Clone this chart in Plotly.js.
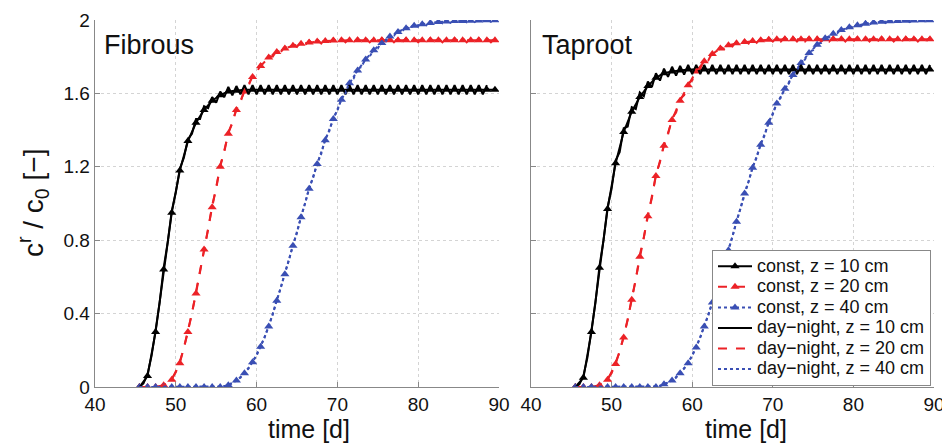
<!DOCTYPE html>
<html>
<head>
<meta charset="utf-8">
<script src="https://cdn.plot.ly/plotly-3.0.1.min.js"></script>
<style>html,body{margin:0;padding:0;background:#fff;}#chart{width:942px;height:445px;}</style>
</head>
<body>
<div id="chart"></div>
<script>
// ---- time grids ----
const tConst = [45.5,46.5,47.5,48.5,49.5,50.5,51.5,52.5,53.5,54.5,55.5,56.5,57.5,58.5,59.5,60.5,61.5,62.5,63.5,64.5,65.5,66.5,67.5,68.5,69.5,70.5,71.5,72.5,73.5,74.5,75.5,76.5,77.5,78.5,79.5,80.5,81.5,82.5,83.5,84.5,85.5,86.5,87.5,88.5,89.5];
const tDN = [45.5,46,46.5,47,47.5,48,48.5,49,49.5,50,50.5,51,51.5,52,52.5,53,53.5,54,54.5,55,55.5,56,56.5,57,57.5,58,58.5,59,59.5,60,60.5,61,61.5,62,62.5,63,63.5,64,64.5,65,65.5,66,66.5,67,67.5,68,68.5,69,69.5,70,70.5,71,71.5,72,72.5,73,73.5,74,74.5,75,75.5,76,76.5,77,77.5,78,78.5,79,79.5,80,80.5,81,81.5,82,82.5,83,83.5,84,84.5,85,85.5,86,86.5,87,87.5,88,88.5,89,89.5];

// ---- Fibrous: constant transpiration ----
const fibConst10 = [0,0.06,0.30,0.64,0.95,1.18,1.34,1.44,1.51,1.56,1.59,1.61,1.615,1.62,1.62,1.62,1.62,1.62,1.62,1.62,1.62,1.62,1.62,1.62,1.62,1.62,1.62,1.62,1.62,1.62,1.62,1.62,1.62,1.62,1.62,1.62,1.62,1.62,1.62,1.62,1.62,1.62,1.62,1.62,1.62];
const fibConst20 = [0,0,0,0.01,0.04,0.13,0.30,0.51,0.75,0.98,1.20,1.38,1.51,1.61,1.69,1.75,1.795,1.825,1.845,1.86,1.87,1.878,1.883,1.886,1.888,1.89,1.89,1.89,1.89,1.89,1.89,1.89,1.89,1.89,1.89,1.89,1.89,1.89,1.89,1.89,1.89,1.89,1.89,1.89,1.89];
const fibConst40 = [0,0,0,0,0,0,0,0,0,0,0,0.01,0.035,0.075,0.135,0.22,0.33,0.47,0.615,0.77,0.925,1.08,1.215,1.345,1.46,1.565,1.655,1.725,1.785,1.835,1.875,1.91,1.935,1.955,1.968,1.977,1.984,1.989,1.992,1.994,1.995,1.996,1.997,1.998,1.998];

// ---- Fibrous: day-night transpiration ----
const fibDN10 = [0,0.02,0.07,0.17,0.31,0.46,0.65,0.79,0.96,1.06,1.19,1.25,1.35,1.38,1.46,1.46,1.53,1.52,1.58,1.55,1.61,1.58,1.635,1.59,1.64,1.595,1.645,
 1.595,1.645,1.595,1.645,1.595,1.645,1.595,1.645,1.595,1.645,1.595,1.645,1.595,1.645,1.595,1.645,1.595,1.645,1.595,1.645,1.595,1.645,1.595,1.645,1.595,1.645,1.595,1.645,1.595,1.645,1.595,1.645,1.595,1.645,1.595,1.645,1.595,1.645,1.595,1.645,1.595,1.645,1.595,1.645,1.595,1.645,1.595,1.645,1.595,1.645,1.595,1.645,1.595,1.645,1.595,1.645,1.595,1.645,1.595,1.645];
const fibDN20 = [0,0,0,0,0,0,0.01,0.02,0.045,0.08,0.14,0.21,0.31,0.40,0.52,0.63,0.76,0.86,0.99,1.08,1.21,1.28,1.39,1.435,1.52,1.55,1.62,1.64,1.70,1.71,1.76,1.76,1.805,1.80,1.835,1.825,1.855,1.84,1.87,1.853,1.88,1.862,1.889,1.868,1.895,1.872,1.898,1.875,1.9,1.877,
 1.902,1.878,1.902,1.878,1.902,1.878,1.902,1.878,1.902,1.878,1.902,1.878,1.902,1.878,1.902,1.878,1.902,1.878,1.902,1.878,1.902,1.878,1.902,1.878,1.902,1.878,1.902,1.878,1.902,1.878,1.902,1.878,1.902,1.878,1.902,1.878,1.902,1.878,1.902];
const fibDN40 = [0,0,0,0,0,0,0,0,0,0,0,0,0,0,0,0,0,0,0,0,0,
 0.003,0.012,0.02,0.038,0.05,0.08,0.1,0.14,0.17,0.225,0.27,0.335,0.395,0.475,0.54,0.62,0.69,0.775,0.84,0.93,1.0,1.085,1.14,1.22,1.27,1.352,1.395,1.468,1.505,1.573,1.60,1.663,1.68,1.733,1.745,1.793,1.80,1.843,1.845,1.883,1.883,1.918,1.914,1.943,1.937,1.963,1.953,1.976,1.964,1.985,1.972,1.992,1.978,1.997,1.982,2.0,1.985,2.002,1.987,2.003,1.988,2.004,1.989,2.005,1.99,2.006,1.99,2.006];

// ---- Taproot: constant transpiration ----
const tapConst10 = [0,0.05,0.30,0.65,0.97,1.22,1.39,1.50,1.58,1.64,1.685,1.71,1.72,1.725,1.73,1.73,1.73,1.73,1.73,1.73,1.73,1.73,1.73,1.73,1.73,1.73,1.73,1.73,1.73,1.73,1.73,1.73,1.73,1.73,1.73,1.73,1.73,1.73,1.73,1.73,1.73,1.73,1.73,1.73,1.73];
const tapConst20 = [0,0,0,0.01,0.04,0.125,0.27,0.475,0.71,0.93,1.15,1.315,1.455,1.56,1.645,1.72,1.775,1.815,1.845,1.862,1.873,1.88,1.886,1.89,1.892,1.895,1.895,1.895,1.895,1.895,1.895,1.895,1.895,1.895,1.895,1.895,1.895,1.895,1.895,1.895,1.895,1.895,1.895,1.895,1.895];
const tapConst40 = [0,0,0,0,0,0,0,0,0,0,0,0.015,0.035,0.075,0.13,0.215,0.33,0.46,0.60,0.745,0.90,1.055,1.195,1.32,1.44,1.545,1.625,1.70,1.765,1.82,1.865,1.90,1.925,1.945,1.96,1.972,1.98,1.986,1.99,1.993,1.995,1.996,1.997,1.998,1.998];

// ---- Taproot: day-night transpiration ----
const tapDN10 = [0,0.015,0.06,0.16,0.31,0.46,0.66,0.80,0.98,1.08,1.235,1.28,1.41,1.42,1.525,1.515,1.605,1.585,1.665,1.635,1.71,1.67,1.735,1.69,1.745,1.697,1.75,1.703,1.755,
 1.705,1.755,1.705,1.755,1.705,1.755,1.705,1.755,1.705,1.755,1.705,1.755,1.705,1.755,1.705,1.755,1.705,1.755,1.705,1.755,1.705,1.755,1.705,1.755,1.705,1.755,1.705,1.755,1.705,1.755,1.705,1.755,1.705,1.755,1.705,1.755,1.705,1.755,1.705,1.755,1.705,1.755,1.705,1.755,1.705,1.755,1.705,1.755,1.705,1.755,1.705,1.755,1.705,1.755,1.705,1.755,1.705,1.755,1.705,1.755];
const tapDN20 = [0,0,0,0,0,0,0.01,0.02,0.045,0.075,0.135,0.19,0.28,0.365,0.485,0.585,0.72,0.815,0.94,1.03,1.16,1.225,1.325,1.375,1.465,1.495,1.57,1.59,1.655,1.67,1.73,1.735,1.785,1.78,1.825,1.818,1.855,1.842,1.872,1.856,1.883,1.864,1.89,1.871,1.896,1.876,1.9,1.879,1.903,1.882,
 1.907,1.883,1.907,1.883,1.907,1.883,1.907,1.883,1.907,1.883,1.907,1.883,1.907,1.883,1.907,1.883,1.907,1.883,1.907,1.883,1.907,1.883,1.907,1.883,1.907,1.883,1.907,1.883,1.907,1.883,1.907,1.883,1.907,1.883,1.907,1.883,1.907,1.883,1.907];
const tapDN40 = [0,0,0,0,0,0,0,0,0,0,0,0,0,0,0,0,0,0,0,0,0,
 0.004,0.017,0.022,0.038,0.05,0.08,0.1,0.135,0.17,0.22,0.27,0.335,0.39,0.465,0.525,0.605,0.67,0.75,0.82,0.905,0.975,1.06,1.12,1.2,1.25,1.327,1.372,1.448,1.485,1.553,1.577,1.633,1.655,1.708,1.725,1.773,1.785,1.828,1.835,1.873,1.875,1.908,1.905,1.933,1.927,1.953,1.945,1.968,1.958,1.98,1.968,1.988,1.975,1.994,1.98,1.998,1.984,2.001,1.986,2.003,1.988,2.004,1.989,2.005,1.99,2.006,1.99,2.006];

const seriesNames = ['const, z = 10 cm','const, z = 20 cm','const, z = 40 cm','day\u2212night, z = 10 cm','day\u2212night, z = 20 cm','day\u2212night, z = 40 cm'];
const xTicks = [40,50,60,70,80,90];
const yTicks = [0,0.4,0.8,1.2,1.6,2];
const yTickText = ['0','0.4','0.8','1.2','1.6','2'];

const BLACK = '#000000', RED = '#ec2227', BLUE = '#3a4fb4';
const colors = [BLACK, RED, BLUE];
const dashes = ['solid','dash','dot'];

function legName(s){ return '<span style="font-size:18px">' + s + '</span>'; }

function panel(xa, ya, constArr, dnArr, showLeg){
  const tr = [];
  constArr.forEach((v,i)=>{
    tr.push({x:tConst, y:v, xaxis:xa, yaxis:ya, type:'scatter', mode:'lines+markers',
      name:legName(seriesNames[i]), legendrank:i+1, showlegend:showLeg,
      line:{color:colors[i], width:2, dash:dashes[i]},
      marker:{symbol:'triangle-up', size:8, color:colors[i], line:{width:0}}});
  });
  dnArr.forEach((v,i)=>{
    tr.push({x:tDN, y:v, xaxis:xa, yaxis:ya, type:'scatter', mode:'lines',
      name:legName(seriesNames[i+3]), legendrank:i+4, showlegend:showLeg,
      line:{color:colors[i], width:2, dash:dashes[i]}});
  });
  return tr;
}

const data = [].concat(
  panel('x','y',[fibConst10,fibConst20,fibConst40],[fibDN10,fibDN20,fibDN40],false),
  panel('x2','y2',[tapConst10,tapConst20,tapConst40],[tapDN10,tapDN20,tapDN40],true)
);

const FONT = 'Liberation Sans, Arial, Helvetica, sans-serif';
const W = 942, H = 445;
function xax(dom){
  return {domain:dom, range:[40,90], tickvals:xTicks, ticks:'inside', ticklen:5, tickcolor:'#888',
    showline:true, linecolor:'#888', linewidth:1.3, mirror:false, zeroline:false,
    showgrid:true, gridcolor:'#d4d4d4', griddash:'dot', gridwidth:1,
    ticklabeloverflow:'allow',
    tickfont:{family:FONT, size:19, color:'#111'}};
}
function yax(anchor, labels){
  return {domain:[1-387/H, 1-20/H], range:[0,2], tickvals:yTicks, ticktext:yTickText, anchor:anchor,
    ticks:'inside', ticklen:5, tickcolor:'#888', showticklabels:labels,
    showline:true, linecolor:'#888', linewidth:1.3, mirror:false, zeroline:false,
    showgrid:true, gridcolor:'#d4d4d4', griddash:'dot', gridwidth:1,
    ticklabeloverflow:'allow',
    tickfont:{family:FONT, size:19, color:'#111'}};
}

const layout = {
  width:W, height:H, margin:{l:0,r:0,t:0,b:0}, paper_bgcolor:'#fff', plot_bgcolor:'#fff',
  font:{family:FONT, color:'#111'},
  xaxis: Object.assign(xax([95/W, 499/W]), {anchor:'y'}),
  yaxis: yax('x', true),
  xaxis2: Object.assign(xax([531/W, 934/W]), {anchor:'y2'}),
  yaxis2: yax('x2', false),
  showlegend:true,
  legend:{x:931/W, xanchor:'right', y:1-386/H, yanchor:'bottom', bgcolor:'#fff',
    bordercolor:'#888', borderwidth:1, font:{family:FONT, size:13.5, color:'#111'},
    itemwidth:34, tracegroupgap:0, traceorder:'normal'},
  annotations:[
    {xref:'paper', yref:'paper', x:102/W, y:1-45/H, xanchor:'left', yanchor:'middle', text:'Fibrous', showarrow:false, font:{family:FONT, size:27, color:'#111'}},
    {xref:'paper', yref:'paper', x:540/W, y:1-45/H, xanchor:'left', yanchor:'middle', text:'Taproot', showarrow:false, font:{family:FONT, size:27, color:'#111'}},
    {xref:'paper', yref:'paper', x:309/W, y:1-429/H, xanchor:'center', yanchor:'middle', text:'time [d]', showarrow:false, font:{family:FONT, size:25, color:'#111'}},
    {xref:'paper', yref:'paper', x:746/W, y:1-429/H, xanchor:'center', yanchor:'middle', text:'time [d]', showarrow:false, font:{family:FONT, size:25, color:'#111'}},
    {xref:'paper', yref:'paper', x:33/W, y:1-203/H, xanchor:'center', yanchor:'middle', textangle:-90, text:'c<sup>r</sup> / c<sub>0</sub> [\u2212]', showarrow:false, font:{family:FONT, size:28, color:'#111'}}
  ]
};

Plotly.newPlot('chart', data, layout, {staticPlot:true, displayModeBar:false});
</script>
</body>
</html>
